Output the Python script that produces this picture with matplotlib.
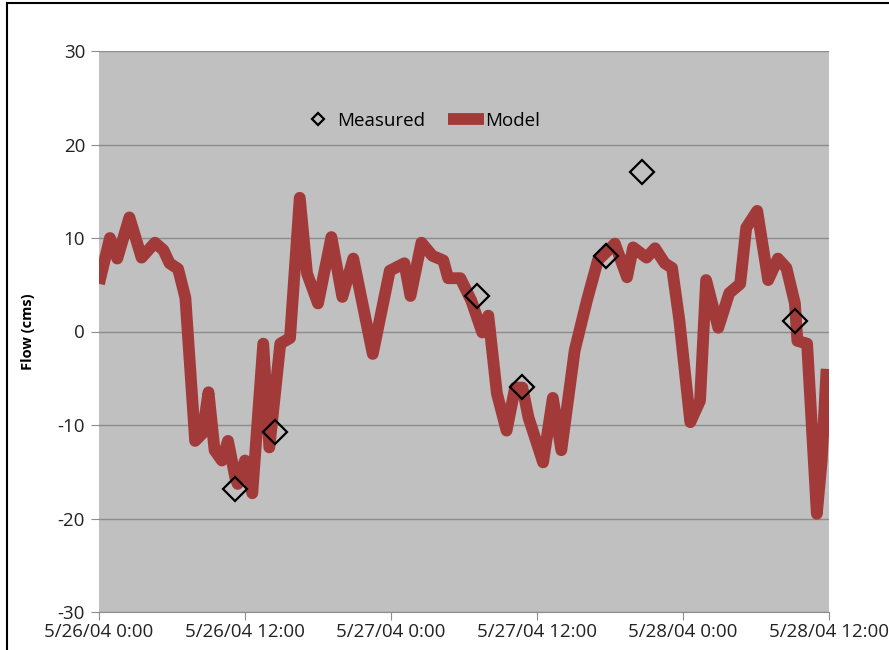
import numpy as np
import matplotlib
matplotlib.use('Agg')
import matplotlib.pyplot as plt
from matplotlib.lines import Line2D

plt.rcParams['font.family'] = ['Open Sans', 'DejaVu Sans']
plt.rcParams['axes.unicode_minus'] = False

# hours since 5/26/04 0:00
model_hours = [0.0, 0.9, 1.5, 2.5, 3.5, 4.6, 5.3, 5.8, 6.5, 7.1, 7.9, 8.5, 9.0, 9.5,
               10.1, 10.6, 11.2, 11.4, 12.0, 12.6, 13.5, 14.0, 14.9, 15.7, 16.5,
               17.1, 18.0, 19.1, 20.0, 20.9, 22.5, 23.9, 25.1, 25.6, 26.5, 27.4,
               28.3, 28.7, 29.7, 30.6, 31.5, 32.0, 32.7, 33.5, 34.2, 34.8, 35.3,
               36.5, 37.3, 38.0, 39.1, 40.1, 41.0, 42.4, 43.4, 43.9, 45.0, 45.7,
               46.5, 47.1, 47.7, 48.6, 49.4, 49.9, 50.9, 51.8, 52.7, 53.2, 54.1,
               55.0, 55.8, 56.5, 57.2, 57.4, 58.2, 59.0, 59.4, 59.8]
model_flow = [5.1, 10.0, 7.8, 12.2, 7.9, 9.5, 8.7, 7.3, 6.7, 3.6, -11.7, -10.9, -6.5,
              -12.7, -13.8, -11.7, -15.6, -16.3, -13.8, -17.3, -1.3, -12.4, -1.3,
              -0.7, 14.3, 6.2, 3.0, 10.1, 3.7, 7.8, -2.4, 6.5, 7.3, 3.8, 9.5, 8.1,
              7.6, 5.7, 5.7, 3.3, -0.1, 1.7, -6.6, -10.6, -6.0, -6.0, -9.2, -14.0,
              -7.1, -12.7, -2.0, 3.3, 7.6, 9.4, 5.8, 9.0, 7.9, 8.9, 7.3, 6.8, 1.2,
              -9.7, -7.4, 5.5, 0.4, 4.1, 5.1, 11.1, 12.9, 5.5, 7.8, 6.8, 3.0, -1.0,
              -1.3, -19.5, -13.8, -4.0]

measured_hours = [11.2, 14.5, 31.1, 34.8, 41.7, 44.6, 57.2]
measured_flow = [-16.8, -10.7, 3.85, -5.9, 8.1, 17.1, 1.1]

tick_hours = [0, 12, 24, 36, 48, 60]
tick_labels = ['5/26/04 0:00', '5/26/04 12:00', '5/27/04 0:00',
               '5/27/04 12:00', '5/28/04 0:00', '5/28/04 12:00']

fig = plt.figure(figsize=(8.89, 6.5), dpi=100)
ax = fig.add_axes([99/889, 1-612/650, 730/889, 561/650])
ax.set_facecolor('#c0c0c0')

ax.plot(model_hours, model_flow, color='#a33a3a', lw=8.5, solid_joinstyle='round',
        solid_capstyle='butt', label='Model', zorder=3)
ax.plot(measured_hours, measured_flow, ls='none', marker='D', ms=12, mfc='none',
        mec='black', mew=1.6, label='Measured', zorder=4)

ax.set_xlim(0, 60)
ax.set_ylim(-30, 30)
ax.set_yticks(range(-30, 31, 10))
ax.set_xticks(tick_hours)
ax.set_xticklabels(tick_labels)
ax.yaxis.grid(True, color='#8c8c8c', lw=1)
ax.set_axisbelow(True)
for s in ['top', 'right', 'left']:
    ax.spines[s].set_visible(False)
ax.spines['bottom'].set_color('#8c8c8c')
ax.tick_params(axis='x', colors='#8c8c8c', length=6, labelcolor='#222222', labelsize=13.5, pad=2)
ax.tick_params(axis='y', colors='#8c8c8c', length=6, labelcolor='#222222', labelsize=13.5, pad=4)
ax.set_ylabel('Flow (cms)', fontsize=10.5, fontweight='bold', labelpad=16)

h, l = ax.get_legend_handles_labels()
leg = ax.legend([h[1], h[0]], [l[1], l[0]], loc='center', bbox_to_anchor=(0.44, 0.876),
                ncol=2, frameon=False, fontsize=13.5, markerscale=0.5, handlelength=1.9,
                handletextpad=0.1, columnspacing=1.2)

# outer border
fig.add_artist(Line2D([7/889, 7/889], [0, 1-3/650], color='black', lw=1.5))
fig.add_artist(Line2D([7/889, 1], [1-3/650, 1-3/650], color='black', lw=1.5))

fig.savefig('out.png', dpi=100)
